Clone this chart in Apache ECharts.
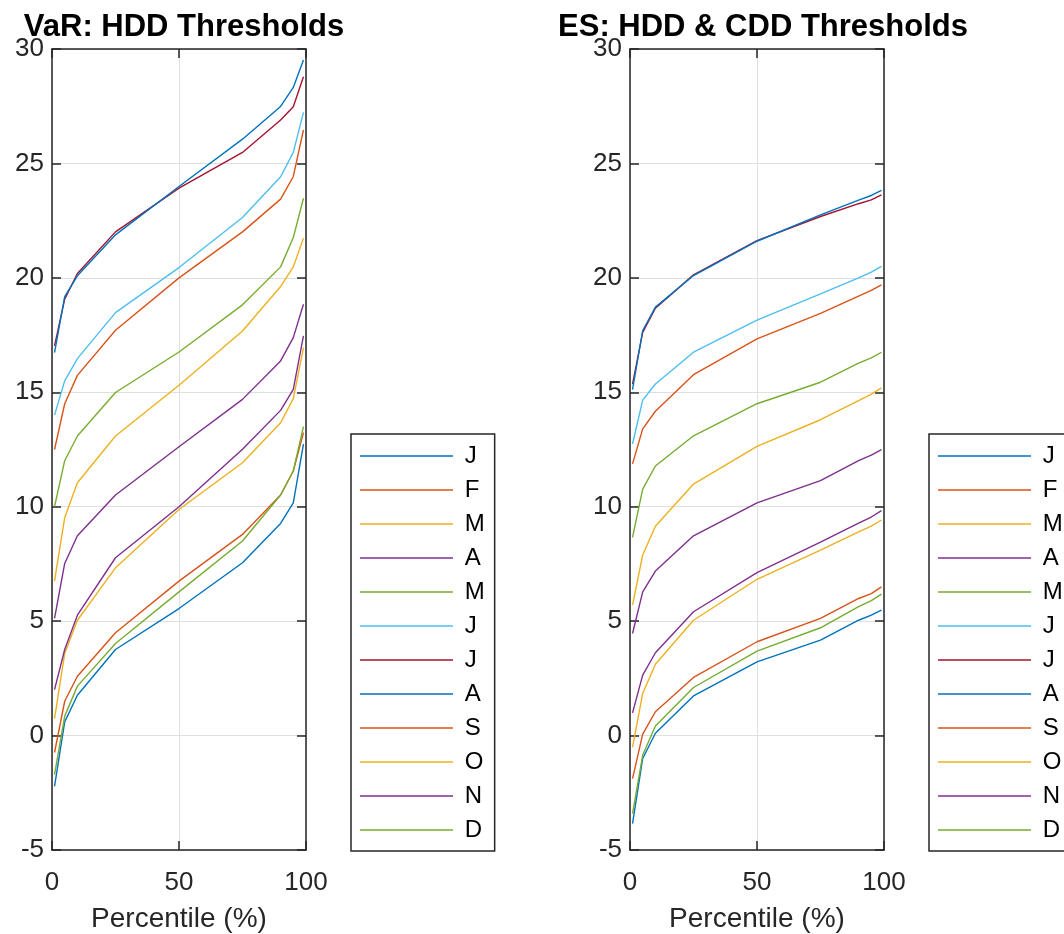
<!DOCTYPE html>
<html>
<head>
<meta charset="utf-8">
<script src="https://cdn.jsdelivr.net/npm/echarts@6/dist/echarts.min.js"></script>
<style>
  html, body { margin: 0; padding: 0; background: #fff; }
  #main { width: 1064px; height: 934px; }
</style>
</head>
<body>
<div id="main"></div>
<script>
// percentile levels (x values)
var percentiles = [1, 5, 10, 25, 50, 75, 90, 95, 99];
var months = ['J', 'F', 'M', 'A', 'M', 'J', 'J', 'A', 'S', 'O', 'N', 'D'];
var xTicks = [0, 50, 100];
var yTicks = [-5, 0, 5, 10, 15, 20, 25, 30];

// VaR: HDD thresholds, one array per month
var varJan = [-2.22, 0.6, 1.76, 3.76, 5.55, 7.55, 9.27, 10.17, 12.74];
var varFeb = [-0.74, 1.5, 2.59, 4.49, 6.75, 8.79, 10.51, 11.56, 13.24];
var varMar = [0.74, 3.59, 5.04, 7.33, 9.88, 11.92, 13.67, 14.72, 16.95];
var varApr = [5.12, 7.52, 8.73, 10.51, 12.62, 14.69, 16.37, 17.39, 18.85];
var varMay = [10.0, 12.01, 13.09, 14.99, 16.76, 18.82, 20.48, 21.76, 23.48];
var varJun = [14.0, 15.5, 16.47, 18.48, 20.45, 22.64, 24.42, 25.48, 27.23];
var varJul = [17.03, 19.07, 20.19, 22.01, 23.92, 25.48, 26.9, 27.48, 28.79];
var varAug = [16.73, 19.18, 20.09, 21.88, 23.99, 26.06, 27.49, 28.32, 29.52];
var varSep = [12.5, 14.5, 15.74, 17.71, 20.0, 22.01, 23.44, 24.43, 26.46];
var varOct = [6.76, 9.52, 11.05, 13.09, 15.31, 17.68, 19.62, 20.48, 21.73];
var varNov = [2.01, 3.76, 5.26, 7.77, 10.0, 12.51, 14.21, 15.13, 17.46];
var varDec = [-1.71, 0.85, 2.16, 4.02, 6.28, 8.5, 10.51, 11.56, 13.5];

// ES: HDD & CDD thresholds
var esJan = [-3.85, -1.0, 0.1, 1.73, 3.22, 4.17, 5.04, 5.26, 5.48];
var esFeb = [-1.88, 0.06, 1.04, 2.54, 4.1, 5.12, 5.99, 6.2, 6.5];
var esMar = [-0.5, 1.84, 3.12, 5.04, 6.83, 8.1, 8.9, 9.15, 9.42];
var esApr = [4.46, 6.28, 7.19, 8.73, 10.17, 11.14, 12.01, 12.25, 12.49];
var esMay = [8.66, 10.77, 11.78, 13.1, 14.5, 15.44, 16.27, 16.5, 16.75];
var esJun = [12.74, 14.66, 15.36, 16.75, 18.15, 19.3, 20.0, 20.25, 20.5];
var esJul = [15.36, 17.62, 18.67, 20.13, 21.63, 22.68, 23.24, 23.41, 23.63];
var esAug = [15.12, 17.7, 18.72, 20.1, 21.6, 22.75, 23.4, 23.6, 23.82];
var esSep = [11.87, 13.4, 14.17, 15.77, 17.33, 18.45, 19.2, 19.45, 19.69];
var esOct = [5.7, 7.89, 9.15, 10.99, 12.64, 13.8, 14.64, 14.92, 15.19];
var esNov = [0.99, 2.64, 3.62, 5.41, 7.12, 8.45, 9.28, 9.55, 9.83];
var esDec = [-3.41, -0.85, 0.42, 2.1, 3.69, 4.71, 5.63, 5.9, 6.18];

var varData = [varJan, varFeb, varMar, varApr, varMay, varJun, varJul, varAug, varSep, varOct, varNov, varDec];
var esData = [esJan, esFeb, esMar, esApr, esMay, esJun, esJul, esAug, esSep, esOct, esNov, esDec];

// matlab default line colours
var colors = ['#0072BD', '#D95319', '#EDB120', '#7E2F8E', '#77AC30', '#4DBEEE', '#A2142F'];

var font = 'Liberation Sans, Arial, sans-serif';
var axisColor = '#262626';

// legend needs unique names, pad with spaces and trim when shown
var legendNames = months.map(function (m, i) {
    return m + new Array(i + 1).join(' ');
});

function zip(vals) {
    return percentiles.map(function (p, i) { return [p, vals[i]]; });
}

function makeSeries(data, gi) {
    return data.map(function (vals, i) {
        return {
            name: legendNames[i],
            type: 'line',
            xAxisIndex: gi * 2,
            yAxisIndex: gi * 2,
            data: zip(vals),
            showSymbol: false,
            symbol: 'none',
            silent: true,
            lineStyle: { width: 1.4, color: colors[i % 7] },
            itemStyle: { color: colors[i % 7] }
        };
    });
}

var lineSt = { color: axisColor, width: 1.5 };

function bottomAxis(gi) {
    return {
        type: 'value', gridIndex: gi, position: 'bottom',
        min: 0, max: 100, interval: 50,
        name: 'Percentile (%)',
        nameLocation: 'middle', nameGap: 55,
        nameTextStyle: { color: axisColor, fontSize: 28, fontFamily: font },
        axisLine: { show: true, onZero: false, lineStyle: lineSt },
        axisTick: { show: true, inside: true, length: 9, lineStyle: lineSt },
        axisLabel: { color: axisColor, fontSize: 26, fontFamily: font, margin: 20 },
        splitLine: { show: true, lineStyle: { color: '#dfdfdf', width: 1 } }
    };
}
function topAxis(gi) {
    return {
        type: 'value', gridIndex: gi, position: 'top',
        min: 0, max: 100, interval: 50,
        axisLine: { show: true, onZero: false, lineStyle: lineSt },
        axisTick: { show: true, inside: true, length: 9, lineStyle: lineSt },
        axisLabel: { show: false },
        splitLine: { show: false }
    };
}
function leftAxis(gi) {
    return {
        type: 'value', gridIndex: gi, position: 'left',
        min: -5, max: 30, interval: 5,
        axisLine: { show: true, onZero: false, lineStyle: lineSt },
        axisTick: { show: true, inside: true, length: 9, lineStyle: lineSt },
        axisLabel: { color: axisColor, fontSize: 26, fontFamily: font, margin: 8 },
        splitLine: { show: true, lineStyle: { color: '#dfdfdf', width: 1 } }
    };
}
function rightAxis(gi) {
    return {
        type: 'value', gridIndex: gi, position: 'right',
        min: -5, max: 30, interval: 5,
        axisLine: { show: true, onZero: false, lineStyle: lineSt },
        axisTick: { show: true, inside: true, length: 9, lineStyle: lineSt },
        axisLabel: { show: false },
        splitLine: { show: false }
    };
}

function makeLegend(left) {
    return {
        orient: 'vertical',
        left: left, top: 434,
        data: legendNames,
        icon: 'rect',
        itemWidth: 93, itemHeight: 1.5,
        itemGap: 10,
        padding: [10, 10, 9, 9],
        borderColor: axisColor, borderWidth: 1.5,
        selectedMode: false,
        formatter: function (n) { return ' ' + n.trim(); },
        textStyle: { color: '#000', fontSize: 24, fontFamily: font, lineHeight: 24 }
    };
}

var chart = echarts.init(document.getElementById('main'));

var option = {
    animation: false,
    backgroundColor: '#fff',
    title: [
        { text: 'VaR: HDD Thresholds', left: 179, top: 7, textAlign: 'center',
          textStyle: { color: '#000', fontSize: 31, fontWeight: 'bold', fontFamily: font } },
        { text: 'ES: HDD & CDD Thresholds', left: 758, top: 7, textAlign: 'center',
          textStyle: { color: '#000', fontSize: 31, fontWeight: 'bold', fontFamily: font } }
    ],
    grid: [
        { left: 52, top: 49, width: 254, height: 801, outerBoundsMode: 'none', containLabel: false },
        { left: 630, top: 49, width: 254, height: 801, outerBoundsMode: 'none', containLabel: false }
    ],
    xAxis: [bottomAxis(0), topAxis(0), bottomAxis(1), topAxis(1)],
    yAxis: [leftAxis(0), rightAxis(0), leftAxis(1), rightAxis(1)],
    legend: [makeLegend(351), makeLegend(929)],
    series: makeSeries(varData, 0).concat(makeSeries(esData, 1))
};

chart.setOption(option);
</script>
</body>
</html>
